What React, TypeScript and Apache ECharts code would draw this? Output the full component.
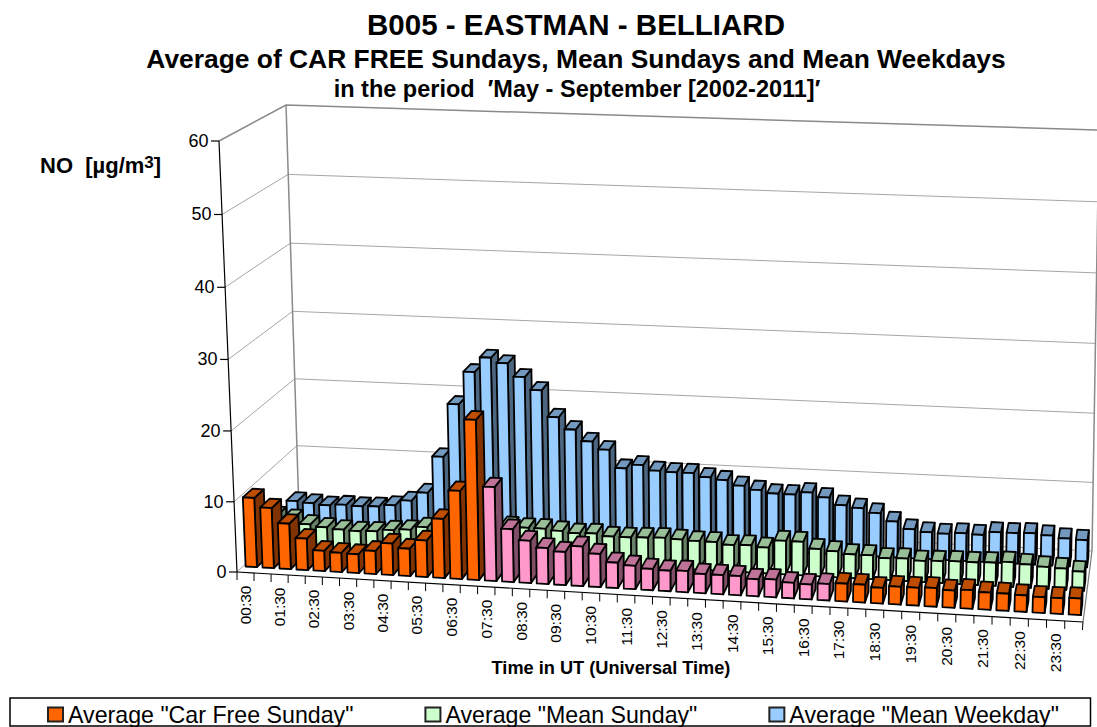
import React, { useEffect, useRef } from "react";
import * as echarts from "echarts";

const categories = [
  "00:30","01:00","01:30","02:00","02:30","03:00","03:30","04:00","04:30","05:00","05:30","06:00",
  "06:30","07:00","07:30","08:00","08:30","09:00","09:30","10:00","10:30","11:00","11:30","12:00",
  "12:30","13:00","13:30","14:00","14:30","15:00","15:30","16:00","16:30","17:00","17:30","18:00",
  "18:30","19:00","19:30","20:00","20:30","21:00","21:30","22:00","22:30","23:00","23:30","24:00",
];
const carFreeSunday = [
  9.9,8.6,6.5,4.5,2.9,2.75,2.7,3.3,4.5,3.9,5.2,8.4,12.5,22.6,13.3,7.5,6,5.1,4.7,5.6,4.7,3.6,3.3,3,
  2.9,3,2.7,2.7,2.7,2.4,2.5,2.2,2.1,2.3,2.5,2.5,2.2,2.5,2.5,2.6,2.4,2.6,2.4,2.4,2.3,2.2,2.2,2.3,
];
const meanSunday = [
  4.5,4.2,3.5,3.2,3.0,2.9,3.0,3.3,3.5,4.0,4.4,4.8,5,5,4.8,4.7,4.7,4.5,4.3,4.4,4.1,4.1,4.2,4.3,
  4.2,4.1,4.1,3.8,3.9,3.7,4.8,4.8,3.9,3.7,3.4,3.4,3.1,3.2,3.0,3.1,3.2,3.2,3.3,3.5,3.3,3.1,3.0,2.7,
];
const meanWeekday = [
  3.8,3.6,3.4,3.6,3.5,3.6,3.9,4.7,6.0,11.4,19.2,24,26.2,25.5,23.6,21.8,18,16.3,14.7,13.6,11,11.6,10.9,10.8,
  10.8,10.3,10,9.3,8.8,8.4,8.4,8.8,8.2,7.2,6.9,6.3,5.2,4.2,3.9,3.8,4.0,3.9,4.4,4.4,4.5,4.3,4.0,3.9,
];
const valueTicks = [0, 10, 20, 30, 40, 50, 60];
const carFreeFirst = "07:30";
const carFreeLast = "17:00";

const FONT = '"Liberation Sans", Arial, sans-serif';

type P = [number, number];
const FL0: P = [237, 572], FL1: P = [219, 141];
const FR0: P = [1083, 622], FR1: P = [1097, 177];
const BL0: P = [299, 512], BL1: P = [286, 105];
const BR0: P = [1092, 551], BR1: P = [1099, 130];
const KU = 0.035, KH = 0.027, KD = 0.05;

const mix = (a: P, b: P, t: number): P => [a[0] + (b[0] - a[0]) * t, a[1] + (b[1] - a[1]) * t];
function project(u: number, d: number, h: number): P {
  const uu = (u * (1 - KU)) / (1 - KU * u);
  const hh = (h * (1 - KH)) / (1 - KH * h);
  const dd = (d * (1 + KD)) / (1 + KD * d);
  const front = mix(mix(FL0, FR0, uu), mix(FL1, FR1, uu), hh);
  const back = mix(mix(BL0, BR0, uu), mix(BL1, BR1, uu), hh);
  return mix(front, back, dd);
}

const BAR_W = 0.67;
const BAR_D = 0.15;
const EDGE = "#000";

const barRender = (d0: number, face: string, side: string, top: string, altFace?: string, altSide?: string, altTop?: string) =>
  (params: any, api: any) => {
    const idx = api.value(0);
    const val = api.value(1);
    const cs = params.coordSys;
    const p = api.coord([idx, val]);
    const base = api.coord([idx, 0]);
    const band = api.size([1, 0])[0] / cs.width;
    const uc = (p[0] - cs.x) / cs.width;
    const h = (base[1] - p[1]) / cs.height;
    const u0 = uc - (band * BAR_W) / 2;
    const u1 = uc + (band * BAR_W) / 2;
    const d1 = d0 + BAR_D;
    const a = categories.indexOf(carFreeFirst);
    const b = categories.indexOf(carFreeLast);
    const alt = altFace && idx >= a && idx <= b;
    const style = (fill: string) => ({ fill, stroke: EDGE, lineWidth: 1.8, lineJoin: "round" });
    return {
      type: "group",
      children: [
        { type: "polygon", shape: { points: [project(u1, d0, 0), project(u1, d1, 0), project(u1, d1, h), project(u1, d0, h)] }, style: style(alt ? altSide! : side) },
        { type: "polygon", shape: { points: [project(u0, d0, h), project(u1, d0, h), project(u1, d1, h), project(u0, d1, h)] }, style: style(alt ? altTop! : top) },
        { type: "polygon", shape: { points: [project(u0, d0, 0), project(u1, d0, 0), project(u1, d0, h), project(u0, d0, h)] }, style: style(alt ? altFace! : face) },
      ],
    };
  };

const gridRender = (params: any, api: any) => {
  const v = api.value(1);
  const cs = params.coordSys;
  const h = (cs.y + cs.height - api.coord([0, v])[1]) / cs.height;
  const isEnd = v === valueTicks[valueTicks.length - 1];
  return {
    type: "polyline",
    shape: { points: [project(0, 0, h), project(0, 1, h), project(1, 1, h)] },
    style: { fill: "none", stroke: isEnd ? "#8a8a8a" : "#a6a6a6", lineWidth: isEnd ? 1.5 : 1 },
  };
};

function lineShape(a: P, b: P) {
  return { x1: a[0], y1: a[1], x2: b[0], y2: b[1] };
}
const frameRender = () => ({
  type: "group",
  children: [
    { type: "line", shape: lineShape(project(0, 1, 0), project(0, 1, 1)), style: { stroke: "#8a8a8a", lineWidth: 1.5 } },
    { type: "line", shape: lineShape(project(1, 1, 0), project(1, 1, 1)), style: { stroke: "#8a8a8a", lineWidth: 1.5 } },
    { type: "line", shape: lineShape(project(1, 0, 0), project(1, 1, 0)), style: { stroke: "#777", lineWidth: 1.2 } },
    { type: "line", shape: lineShape(project(0, 0, 0), project(0, 0, 1)), style: { stroke: "#000", lineWidth: 1.2 } },
    { type: "line", shape: lineShape(project(0, 0, 0), project(1, 0, 0)), style: { stroke: "#000", lineWidth: 1.2 } },
  ],
});

const valueLabelRender = (params: any, api: any) => {
  const v = api.value(1);
  const cs = params.coordSys;
  const h = (cs.y + cs.height - api.coord([0, v])[1]) / cs.height;
  const p = project(0, 0, h);
  return {
    type: "group",
    children: [
      { type: "line", shape: { x1: p[0] - 8, y1: p[1], x2: p[0], y2: p[1] }, style: { stroke: "#000", lineWidth: 1.2 } },
      { type: "text", x: p[0] - 10.5, y: p[1], style: { text: String(v), font: `18px ${FONT}`, fill: "#000", align: "right", verticalAlign: "middle" } },
    ],
  };
};

const catTickRender = (params: any, api: any) => {
  const idx = api.value(0);
  const cs = params.coordSys;
  const band = api.size([1, 0])[0] / cs.width;
  const uc = (api.coord([idx, 0])[0] - cs.x) / cs.width;
  const t = project(uc - band / 2, 0, 0);
  const children: any[] = [
    { type: "line", shape: { x1: t[0], y1: t[1], x2: t[0], y2: t[1] + 8 }, style: { stroke: "#000", lineWidth: 1 } },
  ];
  if (idx === categories.length - 1) {
    const e = project(uc + band / 2, 0, 0);
    children.push({ type: "line", shape: { x1: e[0], y1: e[1], x2: e[0] - 0.6, y2: e[1] + 8 }, style: { stroke: "#000", lineWidth: 1 } });
  }
  if (idx % 2 === 0) {
    const c = project(uc, 0, 0);
    children.push({
      type: "text",
      x: c[0],
      y: c[1] + 13,
      rotation: Math.PI / 2,
      style: { text: categories[idx], font: `15.5px ${FONT}`, fill: "#000", align: "right", verticalAlign: "middle" },
    });
  }
  return { type: "group", children };
};

const xs = (arr: number[]) => arr.map((v, i) => [i, v]);
const boldStyle = (fontSize: number) => ({ fontFamily: FONT, fontWeight: "bold", fontSize, color: "#000" });

export default function App() {
  const ref = useRef<HTMLDivElement>(null);
  useEffect(() => {
    document.body.style.margin = "0";
    const chart = echarts.init(ref.current!, undefined, { renderer: "svg" });
    const silent = { silent: true, coordinateSystem: "cartesian2d", clip: false, tooltip: { show: false } };
    chart.setOption({
      animation: false,
      backgroundColor: "#fff",
      grid: { left: 0, top: 0, width: 1000, height: 600, show: false },
      xAxis: { type: "category", data: categories, show: false },
      yAxis: { type: "value", min: 0, max: 60, interval: 10, show: false },
      title: [
        { text: "B005 - EASTMAN - BELLIARD", left: 571, top: 4, textAlign: "center", textStyle: boldStyle(29.5) },
        { text: "Average of CAR FREE Sundays, Mean Sundays and Mean Weekdays", left: 571, top: 41, textAlign: "center", textStyle: boldStyle(26.4) },
        { text: "in the period  \u2032May - September [2002-2011]\u2032", left: 572, top: 72, textAlign: "center", textStyle: boldStyle(23.5) },
        {
          text: "{b|NO  [\u00b5g/m}{s|3}{b|]}", left: 35, top: 149,
          textStyle: {
            ...boldStyle(22),
            rich: {
              b: boldStyle(22),
              s: { ...boldStyle(17), verticalAlign: "top", lineHeight: 15 },
            },
          },
        },
        { text: "Time in UT (Universal Time)", left: 606, top: 654, textAlign: "center", textStyle: boldStyle(18.2) },
      ],
      legend: {
        left: 42, top: 698, itemGap: 71, itemWidth: 15, itemHeight: 14, icon: "rect",
        data: ['Average "Car Free Sunday"', 'Average "Mean Sunday"', 'Average "Mean Weekday"'],
        textStyle: { fontFamily: FONT, fontSize: 23.2, color: "#000" },
      },
      graphic: [
        { type: "rect", z: -1, shape: { x: 10, y: 698, width: 1080.5, height: 28 }, style: { fill: "none", stroke: "#000", lineWidth: 1.5 } },
      ],
      series: [
        { ...silent, type: "custom", name: "grid", z: 1, data: valueTicks.map((v) => [0, v]), renderItem: gridRender },
        { ...silent, type: "custom", name: "frame", z: 1, data: [[0, 0]], renderItem: frameRender },
        { ...silent, type: "custom", name: "valueAxis", z: 2, data: valueTicks.map((v) => [0, v]), renderItem: valueLabelRender },
        { ...silent, type: "custom", name: "categoryAxis", z: 2, data: categories.map((_, i) => [i, 0]), renderItem: catTickRender },
        {
          ...silent, type: "custom", name: 'Average "Mean Weekday"', z: 3, data: xs(meanWeekday),
          itemStyle: { color: "#99CCFF", borderColor: "#222", borderWidth: 1.5 },
          renderItem: barRender(0.76, "#99CCFF", "#4D6680", "#7399BF"),
        },
        {
          ...silent, type: "custom", name: 'Average "Mean Sunday"', z: 4, data: xs(meanSunday),
          itemStyle: { color: "#CCFFCC", borderColor: "#222", borderWidth: 1.5 },
          renderItem: barRender(0.425, "#CCFFCC", "#668066", "#99BF99"),
        },
        {
          ...silent, type: "custom", name: 'Average "Car Free Sunday"', z: 5, data: xs(carFreeSunday),
          itemStyle: { color: "#FF6600", borderColor: "#222", borderWidth: 1.5 },
          renderItem: barRender(0.09, "#FF6600", "#803300", "#BF4D00", "#FF99CC", "#804D66", "#BF7399"),
        },
      ],
    });
    return () => chart.dispose();
  }, []);
  return <div ref={ref} style={{ width: 1097, height: 727, overflow: "hidden" }} />;
}
